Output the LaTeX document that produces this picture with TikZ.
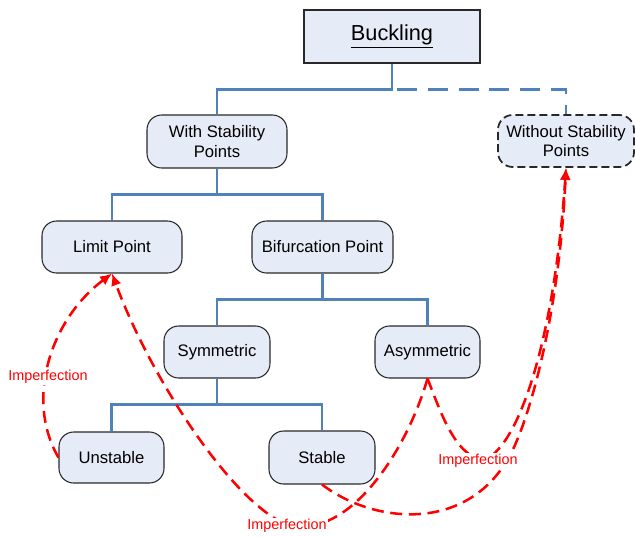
\documentclass[tikz,border=0pt]{standalone}
\usepackage{fontspec}
\setmainfont{Liberation Sans}
\usetikzlibrary{arrows.meta}
\definecolor{boxfill}{RGB}{230,236,247}
\definecolor{boxline}{RGB}{40,40,40}
\definecolor{tree}{RGB}{79,129,189}
\definecolor{imp}{RGB}{255,0,0}
\begin{document}
\begin{tikzpicture}[x=0.75pt,y=-0.75pt,
  box/.style={draw=boxline, line width=0.8pt, fill=boxfill, rounded corners=11pt,
    align=center, inner sep=0pt, font=\fontsize{12.5}{14.5}\selectfont},
  branch/.style={draw=tree, line width=2.2pt},
  branchdash/.style={draw=tree, line width=2.2pt, dash pattern=on 15pt off 8pt, dash phase=19pt},
  imperf/.style={draw=imp, line width=1.9pt, dash pattern=on 9pt off 5pt},
  arr/.style={-{Latex[length=9pt,width=8pt]}},
  implabel/.style={text=imp, fill=white, inner sep=1pt, font=\fontsize{10.8}{12}\selectfont}]
\useasboundingbox (0,0) rectangle (635,536);

% nodes
\node[box, rounded corners=0pt, minimum width=132pt, minimum height=39.75pt,
      font=\fontsize{16.3}{18}\selectfont] (buck) at (392,36.5) {\underline{Buckling}};
\node[box, minimum width=105pt, minimum height=39.75pt] (with) at (217,141.5) {With Stability\\Points};
\node[box, dash pattern=on 6pt off 3pt, line width=1.3pt, minimum width=102pt, minimum height=39pt] (without) at (566,141) {Without Stability\\Points};
\node[box, minimum width=105pt, minimum height=39pt] (limit) at (112,247) {Limit Point};
\node[box, minimum width=105.75pt, minimum height=39pt] (bif) at (322.5,247) {Bifurcation Point};
\node[box, minimum width=79.5pt, minimum height=39pt] (sym) at (217,352) {Symmetric};
\node[box, minimum width=78.75pt, minimum height=39pt] (asym) at (427.5,352) {Asymmetric};
\node[box, minimum width=78.75pt, minimum height=38.25pt] (unst) at (111.5,457.5) {Unstable};
\node[box, minimum width=79.5pt, minimum height=39.75pt] (stab) at (322,457.5) {Stable};

% tree connectors
\coordinate (bk) at ([yshift=-19.5pt]buck.south);
\draw[branch] (buck.south) -- (bk) -| (with.north);
\draw[branchdash] (bk) -| (without.north);
\coordinate (wk) at ([yshift=-19.5pt]with.south);
\draw[branch] (with.south) -- (wk) -| (limit.north);
\draw[branch] (wk) -| (bif.north);
\coordinate (fk) at ([yshift=-19.5pt]bif.south);
\draw[branch] (bif.south) -- (fk) -| (sym.north);
\draw[branch] (fk) -| (asym.north);
\coordinate (sk) at ([yshift=-19.5pt]sym.south);
\draw[branch] (sym.south) -- (sk) -| (unst.north);
\draw[branch] (sk) -| (stab.north);

% imperfection curves
\draw[imperf, arr] (unst.west) .. controls (25,400) and (50,320) .. (limit.south);
\draw[imperf, arr] (asym.south) .. controls (410,440) and (360,527) .. (300,527)
   .. controls (250,527) and (155,390) .. (limit.south);
\draw[imperf, arr] (asym.south) .. controls (440,410) and (455,458) .. (485,460)
   .. controls (522,442) and (555,330) .. (without.south);
\draw[imperf, arr] (stab.south) .. controls (375,525) and (475,535) .. (515,445)
   .. controls (535,400) and (560,300) .. (without.south);

% labels
\node[implabel] (l1) at (48,377) {Imperfection};
\node[implabel] (l2) at (287,526) {Imperfection};
\node[implabel] (l3) at (478,461) {Imperfection};
\end{tikzpicture}
\end{document}
